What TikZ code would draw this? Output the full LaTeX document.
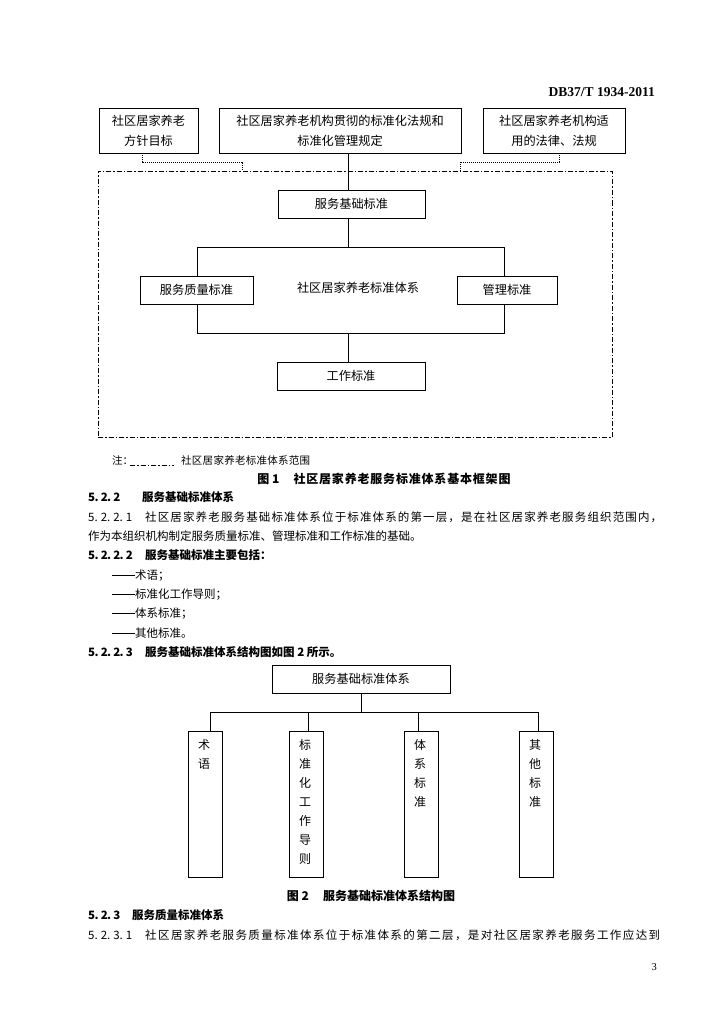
\documentclass[tikz,border=0pt]{standalone}
\usepackage{fontspec}
\setmainfont{Liberation Serif}
\newfontfamily\cjk{Noto Sans CJK SC}
\ExplSyntaxOn
\cs_new:Npn \myspread #1#2 {\hbox to #1 {\tl_map_inline:nn {#2}{##1\hfil}\unskip}}
\cs_new:Npn \mysecno #1 {\tl_map_inline:nn {#1}{\makebox[6.3pt][l]{##1}}}
\ExplSyntaxOff
\newcommand\mydash{\makebox[23pt][l]{\rule[3.8pt]{22.5pt}{0.55pt}}}
\tikzset{
  boxa/.style={draw, line width=0.9pt, inner sep=0pt, align=center,
    font=\cjk\fontsize{12.2}{20}\selectfont},
  conn/.style={line width=0.9pt},
  dotline/.style={line width=0.6pt, dash pattern=on 1pt off 1pt},
  dashdot/.style={line width=0.8pt, dash pattern=on 5pt off 2pt on 1.5pt off 2pt},
  vtext/.style={inner sep=0pt, align=center, anchor=north,
    font=\cjk\fontsize{12}{19}\selectfont},
  body/.style={inner sep=0pt, anchor=base west, font=\cjk\fontsize{11.5}{14}\selectfont},
  bodyb/.style={inner sep=0pt, anchor=base west, font=\cjk\bfseries\fontsize{11.5}{14}\selectfont},
}
\begin{document}
\begin{tikzpicture}[x=1pt,y=-1pt]
\fill[white] (0,0) rectangle (724,1024);
\useasboundingbox (0,0) rectangle (724,1024);

% header
\node[anchor=base east, inner sep=0pt, font=\bfseries\fontsize{13.5}{16}\selectfont] (hdr) at (655,97) {DB37/T 1934-2011};

% ---------- Figure 1 ----------
\node[boxa, minimum width=99pt, minimum height=45pt] (A) at (148.5,130.5) {社区居家养老\\方针目标};
\node[boxa, minimum width=242pt, minimum height=45pt] (B) at (340,130.5) {社区居家养老机构贯彻的标准化法规和\\标准化管理规定};
\node[boxa, minimum width=142pt, minimum height=45pt] (C) at (554,130.5) {社区居家养老机构适\\用的法律、法规};

\node[dashdot, draw, minimum width=514pt, minimum height=266pt, inner sep=0pt] (frame) at (355,304) {};

\node[boxa, minimum width=147pt, minimum height=28pt] (JC) at (351.5,204) {服务基础标准};
\node[boxa, minimum width=113pt, minimum height=28pt] (ZL) at (196.5,290) {服务质量标准};
\node[boxa, minimum width=100pt, minimum height=28pt] (GL) at (507,290) {管理标准};
\node[boxa, minimum width=148pt, minimum height=28pt] (GZ) at (351,376) {工作标准};
\node[inner sep=0pt, font=\cjk\fontsize{12.2}{14}\selectfont] (SYS) at (358,288) {社区居家养老标准体系};

\draw[dotline] (142,0 |- A.south) |- (242,162) -- (242,0 |- frame.north);
\draw[dotline] (559,0 |- C.south) |- (460,162) -- (460,0 |- frame.north);
\draw[conn] (348,0 |- B.south) -- (348,0 |- JC.north);
\draw[conn] (348,0 |- JC.south) -- (348,247);
\draw[conn] (197,0 |- ZL.north) |- (504,247) -- (504,0 |- GL.north);
\draw[conn] (197,0 |- ZL.south) |- (504,333) -- (504,0 |- GL.south);
\draw[conn] (348,333) -- (348,0 |- GZ.north);

% note
\node[body, font=\cjk\fontsize{10.5}{12}\selectfont] (note) at (112,464) {注：};
\coordinate (ns) at (130,465);
\coordinate (ne) at (174,465);
\draw[dashdot, line width=0.7pt] (ns) -- (ne);
\node[body, font=\cjk\fontsize{10.5}{12}\selectfont] (notet) at (181,464) {\myspread{129pt}{社区居家养老标准体系范围}};

\node[inner sep=0pt, anchor=base, font=\cjk\bfseries\fontsize{12}{14}\selectfont] (cap1) at (384,483.5) {图 1\hspace{14pt}\myspread{217pt}{社区居家养老服务标准体系基本框架图}};

% body text
\node[bodyb] (l1n) at (88,501.5) {\mysecno{5.2.2}};
\node[bodyb] (l1) at (142,501.5) {服务基础标准体系};
\node[body] (l2n) at (88,521) {\mysecno{5.2.2.1}};
\node[body] (l2) at (145,521) {\myspread{517pt}{社区居家养老服务基础标准体系位于标准体系的第一层，是在社区居家养老服务组织范围内，}};
\node[body] (l3) at (88,540.5) {作为本组织机构制定服务质量标准、管理标准和工作标准的基础。};
\node[bodyb] (l4n) at (88,559.5) {\mysecno{5.2.2.2}};
\node[bodyb] (l4) at (145,559.5) {服务基础标准主要包括：};
\node[body] (i1) at (112,579) {\mydash 术语；};
\node[body] (i2) at (112,598.5) {\mydash 标准化工作导则；};
\node[body] (i3) at (112,617.5) {\mydash 体系标准；};
\node[body] (i4) at (112,637) {\mydash 其他标准。};
\node[bodyb] (l5n) at (88,656) {\mysecno{5.2.2.3}};
\node[bodyb] (l5) at (145,656) {服务基础标准体系结构图如图 2 所示。};

% ---------- Figure 2 ----------
\node[boxa, minimum width=178pt, minimum height=28pt] (T2) at (361,679) {服务基础标准体系};
\node[draw, line width=0.9pt, inner sep=0pt, minimum width=34pt, minimum height=146pt] (V1) at (205,804) {};
\node[draw, line width=0.9pt, inner sep=0pt, minimum width=34pt, minimum height=146pt] (V2) at (306,804) {};
\node[draw, line width=0.9pt, inner sep=0pt, minimum width=34pt, minimum height=146pt] (V3) at (421.5,804) {};
\node[draw, line width=0.9pt, inner sep=0pt, minimum width=34pt, minimum height=146pt] (V4) at (536,804) {};
\node[vtext] (t1) at (204,739) {术\\语};
\node[vtext] (t2) at (305,739) {标\\准\\化\\工\\作\\导\\则};
\node[vtext] (t3) at (420,739) {体\\系\\标\\准};
\node[vtext] (t4) at (535,739) {其\\他\\标\\准};

\draw[conn] (T2.south) -- (T2.south |- 0,712);
\draw[conn] (210,0 |- V1.north) |- (538,712) -- (538,0 |- V4.north);
\draw[conn] (308,712) -- (308,0 |- V2.north);
\draw[conn] (418,712) -- (418,0 |- V3.north);

\node[inner sep=0pt, anchor=base, font=\cjk\bfseries\fontsize{12}{14}\selectfont] (cap2) at (371,900.5) {图 2\hspace{14pt}服务基础标准体系结构图};

\node[bodyb] (m1n) at (88,919.5) {\mysecno{5.2.3}};
\node[bodyb] (m1) at (132,919.5) {服务质量标准体系};
\node[body] (m2n) at (88,939.5) {\mysecno{5.2.3.1}};
\node[body] (m2) at (145,939.5) {\myspread{515pt}{社区居家养老服务质量标准体系位于标准体系的第二层，是对社区居家养老服务工作应达到}};

\node[anchor=base east, inner sep=0pt, font=\fontsize{10.5}{12}\selectfont] (pg) at (657,970) {3};
\end{tikzpicture}
\end{document}
